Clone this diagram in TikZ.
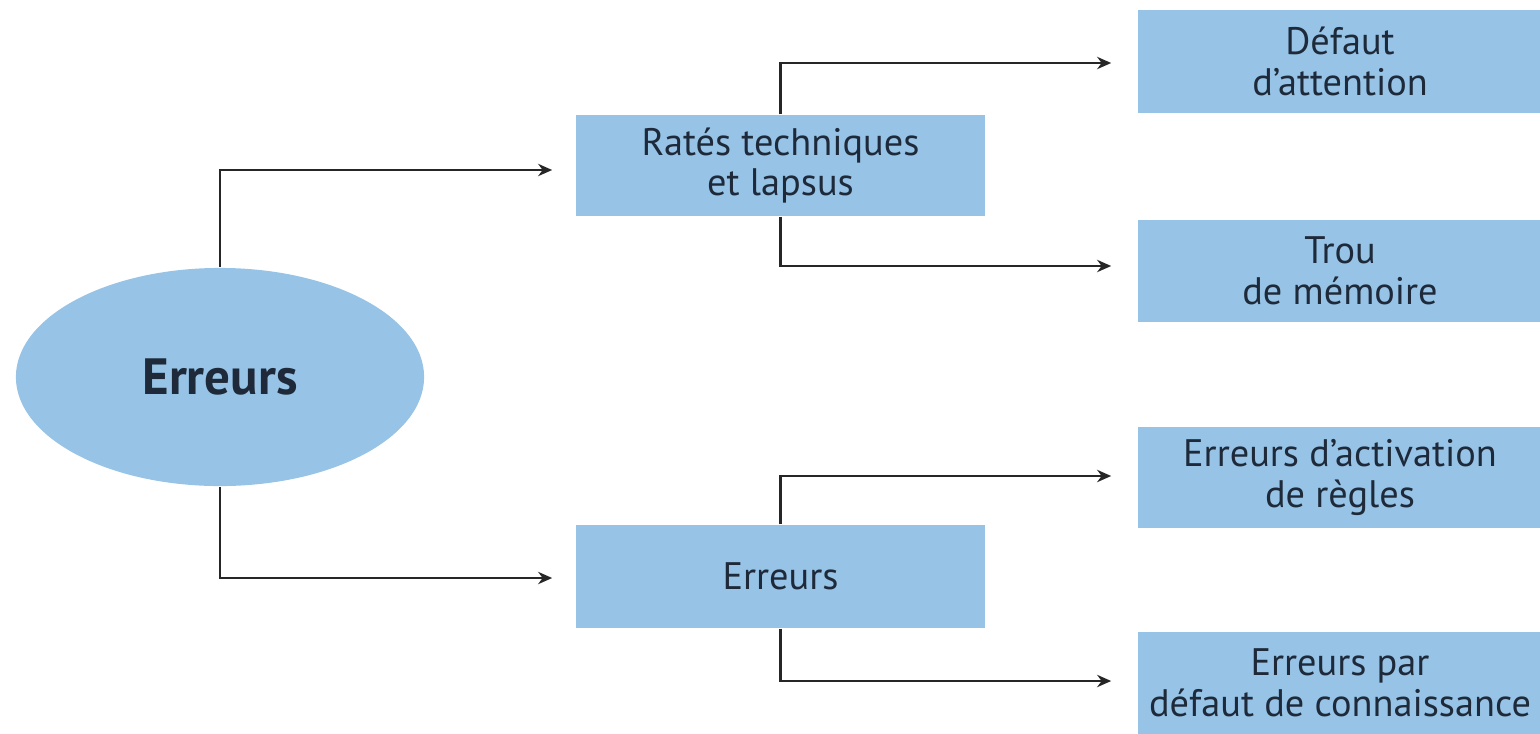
\documentclass[tikz,border=0pt]{standalone}
\usepackage{fontspec}
\setmainfont{PT Sans}
\usetikzlibrary{shapes.geometric,arrows.meta}
\definecolor{boxblue}{RGB}{150,195,230}
\definecolor{txt}{RGB}{30,42,58}
\begin{document}
\begin{tikzpicture}[x=0.01cm,y=-0.01cm,
  box/.style={rectangle,fill=boxblue,draw=none,inner sep=0pt,align=center,text=txt,
    font=\fontsize{10.9}{11.6}\selectfont},
  conn/.style={draw=black!85,line width=0.6pt,-{Stealth[length=4pt,width=3.5pt]}}]
\useasboundingbox (0,0) rectangle (1540,733);
\begin{scope}
\clip (0,0) rectangle (1540,733);
\node[ellipse,fill=boxblue,draw=none,minimum width=4.08cm,minimum height=2.18cm,inner sep=0pt,
  text=txt,font=\fontsize{14.5}{16}\selectfont\bfseries] (ell) at (220,377) {Erreurs};
\node[box,minimum width=4.09cm,minimum height=1.01cm] (b1) at (780.5,165.5) {Ratés techniques\\et lapsus};
\node[box,minimum width=4.09cm,minimum height=1.03cm] (b2) at (780.5,576.5) {Erreurs};
\node[box,minimum width=4.04cm,minimum height=1.03cm] (d1) at (1340,61.5) {Défaut\\d’attention};
\node[box,minimum width=4.04cm,minimum height=1.02cm] (d2) at (1340,271) {Trou\\de mémoire};
\node[box,minimum width=4.04cm,minimum height=1.01cm] (d3) at (1340,477.5) {Erreurs d’activation\\de règles};
\node[box,minimum width=4.04cm,minimum height=1.02cm] (d4) at (1340,683) {Erreurs par\\défaut de connaissance};
\end{scope}
\draw[conn] (ell.north) |- ([xshift=-0.23cm,yshift=-0.045cm]b1.west);
\draw[conn] (ell.south) |- ([xshift=-0.23cm,yshift=-0.015cm]b2.west);
\draw[conn] (b1.north) |- ([xshift=-0.26cm,yshift=-0.015cm]d1.west);
\draw[conn] (b1.south) |- ([xshift=-0.26cm,yshift=0.05cm]d2.west);
\draw[conn] (b2.north) |- ([xshift=-0.26cm,yshift=0.015cm]d3.west);
\draw[conn] (b2.south) |- ([xshift=-0.26cm,yshift=0.02cm]d4.west);
\end{tikzpicture}
\end{document}
